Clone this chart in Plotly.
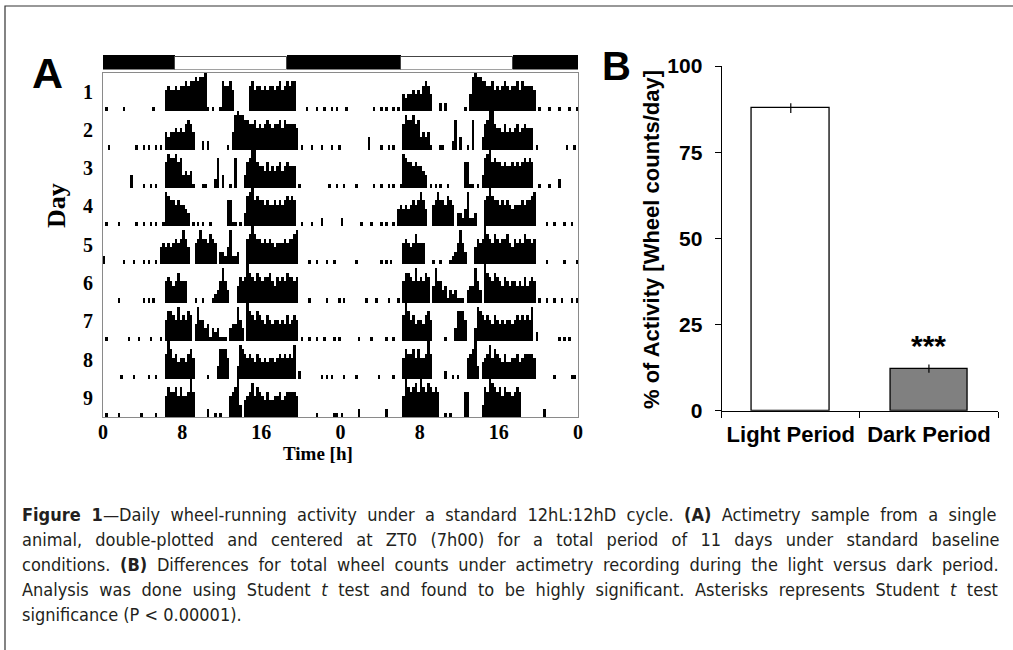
import plotly.graph_objects as go

W, H = 1013, 650

# ---------------- Panel A data (actogram) ----------------
# activity per day: 24 hour-groups x 4 quarter-hour bins, digit = height in tenths of a row
day_activity = [
    "0100 0000 1000 0000 0000 1000 0565 5656 6767 7878 8910 1001 7667 5000 0006 7566 5656 6567 5676 7700 0010 0010 0100 1010",
    "0010 0000 0000 0100 1010 0101 0434 4545 4676 4000 2020 0000 0010 4898 8776 6756 5676 5667 5766 6650 1000 1000 1000 1001",
    "0000 0000 0003 0000 1001 0100 0687 7867 3434 1000 1100 0270 3001 0700 0367 a965 5464 5456 4565 5501 0000 0000 0001 0010",
    "0100 0010 0000 0100 1001 0100 1876 6565 5430 1010 1001 0000 0066 1101 0378 9676 6565 5656 5676 7600 1000 1000 2000 0000",
    "2000 0000 1000 1000 1010 0104 5454 5656 8640 0568 6657 6503 3248 2230 0067 9766 5656 5455 5656 6780 0001 0010 0010 0100",
    "0000 0010 0000 0000 1010 1000 0565 4575 5500 0100 1000 1235 8530 0046 56a7 6576 5667 5465 6576 6560 0001 0000 0010 0001",
    "0100 0000 0010 0010 0001 0001 0577 6585 6576 0485 5341 3231 1103 4485 3097 6576 5465 4554 5464 5650 1001 0010 0100 0101",
    "0000 0001 0000 1000 0010 0100 06a7 5645 5467 5000 0010 0037 7750 0038 7656 5465 4545 5456 5656 5802 0000 0000 1010 1000",
    "0100 0010 0000 0001 0000 0100 0576 6757 5569 6000 0020 0101 0005 67a3 0456 8576 5464 4556 4566 6650 0000 0010 0000 0110",
    "1000 0002 0000 0000 0020 0000 0597 6786 a768 7676 0010 1000 0066 0000 0376 a876 7576 6567 6000 0000 0020 0000 0000 0000",
]
day_labels = ["1", "2", "3", "4", "5", "6", "7", "8", "9"]
bin_hours = 0.25
light_on = [7.3, 30.1]
light_off = [18.6, 41.4]
time_ticks = [0, 8, 16, 24, 32, 40, 48]
time_labels = ["0", "8", "16", "0", "8", "16", "0"]

# ---------------- Panel B data ----------------
periods = ["Light Period", "Dark Period"]
activity_pct = [87.8, 12.2]
activity_sem = [1.4, 1.2]
pct_ticks = [0, 25, 50, 75, 100]

caption_lines = [
    "<b>Figure 1</b>—Daily wheel-running activity under a standard 12hL:12hD cycle. <b>(A)</b> Actimetry sample from a single",
    "animal, double-plotted and centered at ZT0 (7h00) for a total period of 11 days under standard baseline",
    "conditions. <b>(B)</b> Differences for total wheel counts under actimetry recording during the light versus dark period.",
    "Analysis was done using Student <i>t</i> test and found to be highly significant. Asterisks represents Student <i>t</i> test",
    "significance (P &lt; 0.00001).",
]
caption_word_spacing = [5.25, 8.15, 4.5, 5.45, 0]

SERIF = "Liberation Serif, Times New Roman, serif"
SANS = "Liberation Sans, Arial, sans-serif"
NARROW = "Liberation Sans Narrow, Arial Narrow, DejaVu Sans Condensed, sans-serif"
ROW_SCALE = 0.112  # row units per height digit


def px(x):
    return x / W


def py(y):
    return 1 - y / H


def heights(s):
    vals = [int(c, 16) * ROW_SCALE for c in s.replace(" ", "")]
    assert len(vals) == 96
    return vals


day_heights = [heights(s) for s in day_activity]
n_bins = 96

fig = go.Figure()

# actogram rows (double plotted)
for i, lab in enumerate(day_labels):
    d = i + 1
    hts = day_heights[i] + day_heights[i + 1]
    xs = [(k + 0.5) * bin_hours for k in range(2 * n_bins)]
    fig.add_trace(go.Bar(
        x=xs, y=hts, base=-d, width=bin_hours,
        marker=dict(color="black", line=dict(width=0)),
        xaxis="x", yaxis="y", showlegend=False, hoverinfo="skip",
    ))

# light/dark bar
edges = [0] + [v for pair in zip(light_on, light_off) for v in pair] + [48]
dark_x, dark_w = [], []
for a, b in zip(edges[0::2], edges[1::2]):
    dark_x.append((a + b) / 2)
    dark_w.append(b - a)
fig.add_trace(go.Bar(
    x=dark_x, y=[1] * len(dark_x), width=dark_w, base=0,
    marker=dict(color="black", line=dict(width=0)),
    xaxis="x3", yaxis="y3", showlegend=False, hoverinfo="skip",
))
fig.add_trace(go.Bar(
    x=[(a + b) / 2 for a, b in zip(light_on, light_off)],
    y=[0.86] * len(light_on), width=[b - a for a, b in zip(light_on, light_off)], base=0.0,
    marker=dict(color="white", line=dict(width=1, color="#444")),
    xaxis="x3", yaxis="y3", showlegend=False, hoverinfo="skip",
))

# panel B bars
fig.add_trace(go.Bar(
    x=periods, y=activity_pct, width=0.56,
    marker=dict(color=["white", "#808080"], line=dict(color="black", width=1.3)),
    error_y=dict(type="data", array=activity_sem, color="black", thickness=1.2, width=0),
    xaxis="x2", yaxis="y2", showlegend=False, hoverinfo="skip",
))

xA = [px(103), px(578)]
yA = [py(417), py(72.5)]
frame = "#8a8a8a"

fig.update_layout(
    width=W, height=H,
    margin=dict(l=0, r=0, t=0, b=0, autoexpand=False),
    paper_bgcolor="white", plot_bgcolor="rgba(0,0,0,0)",
    barmode="overlay", bargap=0,
    xaxis=dict(domain=xA, anchor="y", range=[0, 48], tickvals=time_ticks, ticktext=time_labels,
               showline=True, linecolor=frame, linewidth=1, mirror=True, ticks="",
               showgrid=False, zeroline=False,
               tickfont=dict(family=SERIF, size=20, color="black", weight="bold"),
               ticklabelstandoff=-3),
    yaxis=dict(domain=yA, anchor="x", range=[-len(day_labels), 0],
               tickvals=[-(i + 1) + 0.5 for i in range(len(day_labels))], ticktext=day_labels,
               showline=True, linecolor=frame, linewidth=1, mirror=True, ticks="",
               showgrid=False, zeroline=False, ticklabelstandoff=5,
               tickfont=dict(family=SERIF, size=20, color="black", weight="bold")),
    xaxis4=dict(domain=xA, anchor="y", overlaying="x", side="top", range=[0, 48],
                tickvals=time_ticks[1:-1], ticks="outside", ticklen=3, tickcolor=frame,
                showticklabels=False, showline=False, showgrid=False, zeroline=False),
    yaxis5=dict(domain=yA, anchor="x", overlaying="y", side="right", range=[-len(day_labels), 0],
                tickvals=[-(i + 1) + 0.5 for i in range(len(day_labels))], ticks="inside",
                ticklen=4, tickcolor=frame, showticklabels=False, showline=False,
                showgrid=False, zeroline=False),
    xaxis3=dict(domain=xA, anchor="y3", range=[0, 48], visible=False),
    yaxis3=dict(domain=[py(69.5), py(55)], anchor="x3", range=[0, 1], visible=False),
    xaxis2=dict(domain=[px(721.7), px(998)], anchor="y2", type="category", range=[-0.5, 1.5],
                showline=True, linecolor="black", linewidth=1.3, ticks="outside", ticklen=6,
                tickcolor="black", tickwidth=1.3, tickson="boundaries", showgrid=False,
                ticklabelstandoff=4,
                tickfont=dict(family=SANS, size=22, color="black", weight="bold")),
    yaxis2=dict(domain=[py(410.7), py(66)], anchor="x2", range=[0, 100],
                tickvals=pct_ticks, showline=True, linecolor="black", linewidth=1.3,
                ticks="outside", ticklen=6, tickcolor="black", tickwidth=1.3,
                showgrid=False, zeroline=False, ticklabelstandoff=8,
                tickfont=dict(family=SANS, size=21, color="black", weight="bold")),
)

annotations = [
    dict(text="<b>A</b>", x=px(47), y=py(73), font=dict(family=SANS, size=43, color="black")),
    dict(text="<b>B</b>", x=px(616), y=py(66), font=dict(family=SANS, size=40, color="black")),
    dict(text="<b>Day</b>", x=px(57), y=py(206), textangle=-90,
         font=dict(family=SERIF, size=26, color="black")),
    dict(text="<b>Time [h]</b>", x=px(318), y=py(453), font=dict(family=SERIF, size=19, color="black")),
    dict(text="<b>% of Activity [Wheel counts/day]</b>", x=px(651), y=py(240), textangle=-90,
         font=dict(family=SANS, size=22, color="black")),
]
for a in annotations:
    a.update(xref="paper", yref="paper", showarrow=False, xanchor="center", yanchor="middle")
fig.add_annotation(text="<b>***</b>", x=periods[1], y=activity_pct[1] + activity_sem[1] + 5.5,
                   xref="x2", yref="y2", showarrow=False, yanchor="middle",
                   font=dict(family=SANS, size=30, color="black"))
for a in annotations:
    fig.add_annotation(**a)

cap_y0, cap_dy = 514, 25
for i, line in enumerate(caption_lines):
    txt = line
    if caption_word_spacing[i]:
        txt = '<span style="word-spacing:%.2fpx">%s</span>' % (caption_word_spacing[i], line)
    fig.add_annotation(text=txt, x=px(20), y=py(cap_y0 + i * cap_dy), xref="paper", yref="paper",
                       xanchor="left", yanchor="middle", showarrow=False,
                       font=dict(family=NARROW, size=18, color="#231f20"))

# figure border (left and top visible)
fig.add_shape(type="rect", xref="paper", yref="paper", x0=px(5), y0=py(6), x1=1.02, y1=-0.02,
              line=dict(color="#333", width=1.2), fillcolor="rgba(0,0,0,0)", layer="below")

fig.write_html(
    "out.html",
    config={"displayModeBar": False},
    post_script="document.body.style.margin='0';document.body.style.overflow='hidden';",
)
